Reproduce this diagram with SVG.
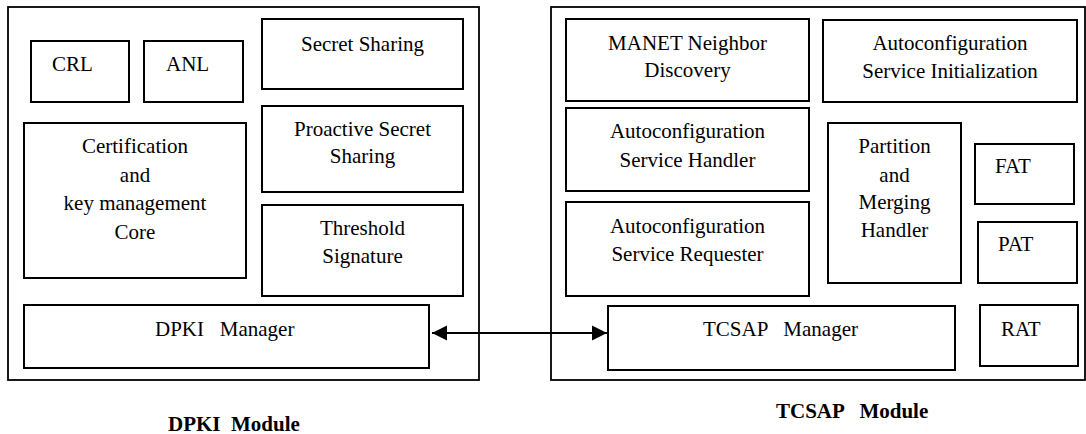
<svg xmlns="http://www.w3.org/2000/svg" width="1086" height="434" viewBox="0 0 1086 434" font-family="'Liberation Serif', Tinos, 'DejaVu Serif', serif">
  <style>
    .box { fill: #fff; stroke: #000; stroke-width: 2; }
    .frame { fill: none; stroke: #000; stroke-width: 1.8; }
    text { font-family: 'Liberation Serif', Tinos, 'DejaVu Serif', serif; font-size: 21px; fill: #000; }
    .c { text-anchor: middle; }
    .title { font-weight: bold; }
    .link { stroke: #000; stroke-width: 2; fill: none; }
  </style>
  <defs>
    <marker id="head" markerUnits="userSpaceOnUse" markerWidth="16" markerHeight="16" viewBox="0 0 16 16" refX="15" refY="8" orient="auto-start-reverse">
      <path d="M0,0.5 L15,8 L0,15.5 Z" fill="#000"/>
    </marker>
  </defs>

  <!-- DPKI module frame -->
  <g id="dpki-module">
    <rect class="frame" x="8" y="7" width="471" height="373"/>
    <text class="title" x="168" y="431" xml:space="preserve">DPKI  Module</text>
  </g>

  <!-- TCSAP module frame -->
  <g id="tcsap-module">
    <rect class="frame" x="551" y="7" width="534" height="373"/>
    <text class="title" x="776" y="418" xml:space="preserve">TCSAP   Module</text>
  </g>

  <!-- DPKI components -->
  <g id="crl">
    <rect class="box" x="31" y="41" width="98" height="61"/>
    <text x="52" y="71">CRL</text>
  </g>
  <g id="anl">
    <rect class="box" x="144" y="41" width="99" height="61"/>
    <text x="166" y="71">ANL</text>
  </g>
  <g id="secret-sharing">
    <rect class="box" x="262" y="19" width="201" height="70"/>
    <text class="c" x="362.5" y="51">Secret Sharing</text>
  </g>
  <g id="proactive-secret-sharing">
    <rect class="box" x="262" y="106" width="201" height="86"/>
    <text class="c" x="362.5" y="136">Proactive Secret</text>
    <text class="c" x="362.5" y="163">Sharing</text>
  </g>
  <g id="threshold-signature">
    <rect class="box" x="262" y="205" width="201" height="91"/>
    <text class="c" x="362.5" y="235">Threshold</text>
    <text class="c" x="362.5" y="263">Signature</text>
  </g>
  <g id="cert-core">
    <rect class="box" x="24" y="123" width="222" height="155"/>
    <text class="c" x="135" y="153">Certification</text>
    <text class="c" x="135" y="182">and</text>
    <text class="c" x="135" y="210">key management</text>
    <text class="c" x="135" y="239">Core</text>
  </g>
  <g id="dpki-manager">
    <rect class="box" x="24" y="305" width="405" height="63"/>
    <text x="155" y="336" xml:space="preserve">DPKI   Manager</text>
  </g>

  <!-- TCSAP components -->
  <g id="manet-nd">
    <rect class="box" x="566" y="19" width="243" height="82"/>
    <text class="c" x="687.5" y="50">MANET Neighbor</text>
    <text class="c" x="687.5" y="77">Discovery</text>
  </g>
  <g id="asi">
    <rect class="box" x="823" y="20" width="254" height="82"/>
    <text class="c" x="950" y="50">Autoconfiguration</text>
    <text class="c" x="950" y="78">Service Initialization</text>
  </g>
  <g id="ash">
    <rect class="box" x="566" y="108" width="243" height="83"/>
    <text class="c" x="687.5" y="138">Autoconfiguration</text>
    <text class="c" x="687.5" y="167">Service Handler</text>
  </g>
  <g id="asr">
    <rect class="box" x="566" y="202" width="243" height="94"/>
    <text class="c" x="687.5" y="233">Autoconfiguration</text>
    <text class="c" x="687.5" y="261">Service Requester</text>
  </g>
  <g id="pmh">
    <rect class="box" x="828" y="123" width="133" height="160"/>
    <text class="c" x="894.5" y="153">Partition</text>
    <text class="c" x="894.5" y="182">and</text>
    <text class="c" x="894.5" y="209">Merging</text>
    <text class="c" x="894.5" y="237">Handler</text>
  </g>
  <g id="fat">
    <rect class="box" x="975" y="144" width="99" height="60"/>
    <text x="995" y="173">FAT</text>
  </g>
  <g id="pat">
    <rect class="box" x="978" y="222" width="99" height="61"/>
    <text x="998" y="251">PAT</text>
  </g>
  <g id="tcsap-manager">
    <rect class="box" x="608" y="306" width="347" height="64"/>
    <text x="703" y="336" xml:space="preserve">TCSAP   Manager</text>
  </g>
  <g id="rat">
    <rect class="box" x="980" y="305" width="98" height="61"/>
    <text x="1001" y="336">RAT</text>
  </g>

  <!-- connectors -->
  <g id="connectors">
    <line class="link" x1="432" y1="333" x2="607" y2="333" marker-start="url(#head)" marker-end="url(#head)"/>
  </g>
</svg>
